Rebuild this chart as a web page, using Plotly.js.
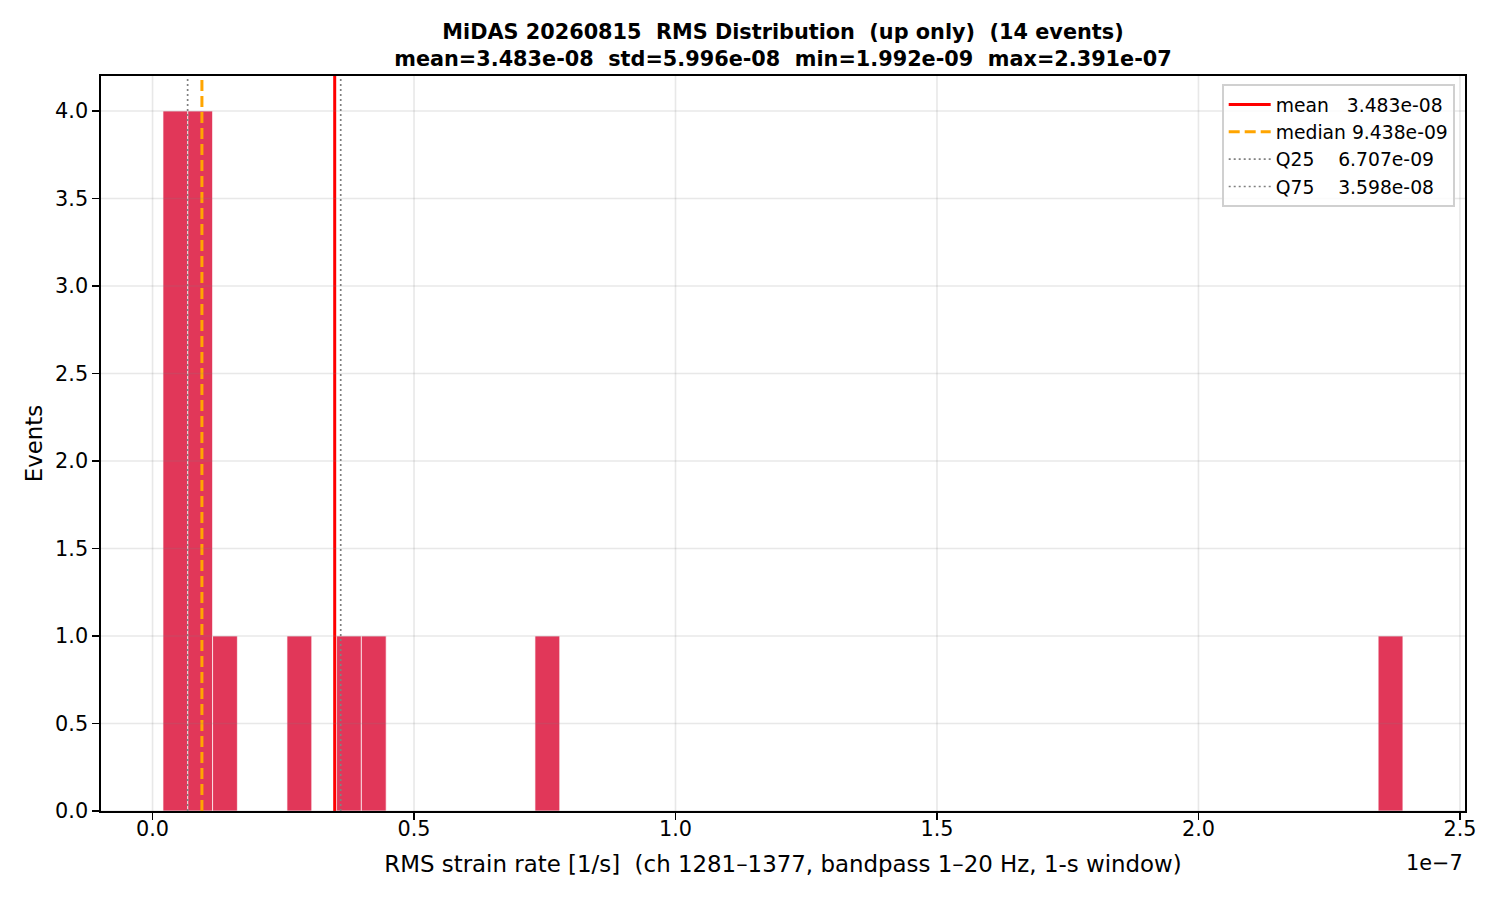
<!DOCTYPE html>
<html>
<head>
<meta charset="utf-8">
<script src="https://cdn.plot.ly/plotly-3.0.1.min.js"></script>
<style>html,body{margin:0;padding:0;background:#fff;}#chart{width:1500px;height:900px;}</style>
</head>
<body>
<div id="chart"></div>
<script>
// ---- data ----
const binMin = 1.992e-09;
const binMax = 2.391e-07;
const nBins = 50;
const counts = [4,4,1,0,0,1,0,1,1,0, 0,0,0,0,0,1,0,0,0,0, 0,0,0,0,0,0,0,0,0,0,
                0,0,0,0,0,0,0,0,0,0, 0,0,0,0,0,0,0,0,0,1];
const statNames = ['mean', 'median', 'Q25', 'Q75'];
const statValues = [3.483e-08, 9.438e-09, 6.707e-09, 3.598e-08];
const statText = ['3.483e-08', '9.438e-09', '6.707e-09', '3.598e-08'];
const xTickVals = [0, 0.5e-7, 1.0e-7, 1.5e-7, 2.0e-7, 2.5e-7];
const xTickText = ['0.0', '0.5', '1.0', '1.5', '2.0', '2.5'];
const yTickVals = [0, 0.5, 1, 1.5, 2, 2.5, 3, 3.5, 4];
const yTickText = ['0.0','0.5','1.0','1.5','2.0','2.5','3.0','3.5','4.0'];

// ---- build ----
const binW = (binMax - binMin) / nBins;
const centers = counts.map((_, i) => binMin + (i + 0.5) * binW);
const xRange = [-0.0986e-7, 2.5097e-7];
const yTop = 4.2;
const pad7 = s => s + '\u00a0'.repeat(Math.max(0, 7 - s.length));

const traces = [{
  type: 'bar', x: centers, y: counts, width: binW,
  marker: {color: 'rgba(220,20,60,0.85)', line: {color: 'white', width: 0.7}},
  showlegend: false, hoverinfo: 'x+y'
}];
const styles = [
  {color: 'red', width: 3, dash: 'solid'},
  {color: 'orange', width: 3, dash: '11px,5px'},
  {color: 'gray', width: 1.7, dash: '2px,3px'},
  {color: 'gray', width: 1.7, dash: '2px,3px'}
];
statValues.forEach((v, i) => {
  traces.push({type: 'scatter', mode: 'lines', x: [v, v], y: [0, yTop],
    name: pad7(statNames[i]) + statText[i], line: styles[i], hoverinfo: 'x'});
});

// grid drawn above bars (as matplotlib does)
const gridColor = 'rgba(128,128,128,0.18)';
const shapes = [];
xTickVals.forEach(v => shapes.push({type: 'line', xref: 'x', yref: 'paper', x0: v, x1: v, y0: 0, y1: 1,
  line: {color: gridColor, width: 1.6}, layer: 'above'}));
yTickVals.forEach(v => shapes.push({type: 'line', xref: 'paper', yref: 'y', x0: 0, x1: 1, y0: v, y1: v,
  line: {color: gridColor, width: 1.6}, layer: 'above'}));

const ff = 'DejaVu Sans, sans-serif';
const f = (size) => ({family: ff, size: size, color: '#000'});
const layout = {
  width: 1500, height: 900,
  paper_bgcolor: 'white', plot_bgcolor: 'white',
  font: f(20.8),
  margin: {l: 101, r: 35, t: 76, b: 89},
  bargap: 0,
  shapes: shapes,
  title: {
    text: '<b>MiDAS 20260815  RMS Distribution  (up only)  (14 events)</b><br><b>mean=3.483e-08  std=5.996e-08  min=1.992e-09  max=2.391e-07</b>',
    font: f(20.8),
    x: 783/1500, xanchor: 'center', xref: 'container',
    y: 1 - 39/900, yanchor: 'top', yref: 'container'
  },
  xaxis: {
    range: xRange, automargin: false,
    tickvals: xTickVals, ticktext: xTickText,
    showgrid: false,
    zeroline: false, showline: true, linecolor: '#000', linewidth: 1.7, mirror: true,
    ticks: 'outside', ticklen: 7, tickwidth: 1.7, tickcolor: '#000',
    ticklabelstandoff: -9,
    tickfont: f(20.8),
    title: {text: 'RMS strain rate [1/s]  (ch 1281–1377, bandpass 1–20 Hz, 1-s window)', font: f(22.9), standoff: 16}
  },
  yaxis: {
    range: [0, yTop], automargin: false,
    tickvals: yTickVals, ticktext: yTickText,
    showgrid: false,
    zeroline: false, showline: true, linecolor: '#000', linewidth: 1.7, mirror: true,
    ticks: 'outside', ticklen: 7, tickwidth: 1.7, tickcolor: '#000',
    tickfont: f(20.8),
    title: {text: 'Events', font: f(22.9), standoff: 6}
  },
  legend: {
    x: 1 - 10/1364, xanchor: 'right', y: 1 - 8/735, yanchor: 'top',
    bgcolor: 'rgba(255,255,255,0.8)', bordercolor: '#d0d0d0', borderwidth: 1.7,
    font: f(18.75), tracegroupgap: 0, itemwidth: 42
  },
  annotations: [{
    text: '1e\u22127', xref: 'paper', yref: 'paper', x: 1, y: 0, yshift: -38,
    xanchor: 'right', yanchor: 'top', showarrow: false,
    font: f(20.8)
  }]
};
Plotly.newPlot('chart', traces, layout, {displayModeBar: false, staticPlot: true});
</script>
</body>
</html>
